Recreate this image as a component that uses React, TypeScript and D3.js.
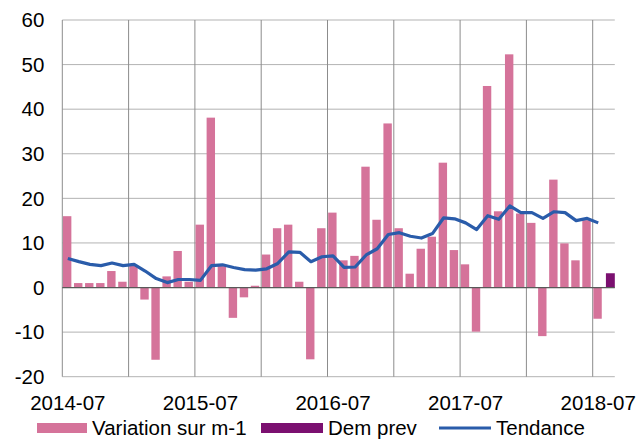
import React from "react";
import * as d3 from "d3";

// monthly categories, 2014-07 .. 2018-08
const months = d3
  .timeMonth.range(new Date(2014, 6, 1), new Date(2018, 8, 1))
  .map((d) => d3.timeFormat("%Y-%m")(d));

// Variation sur m-1 (one per month, last one empty)
const variation: Array<number | null> = [
  16, 1, 1, 1, 3.7, 1.3, 5.0, -2.7, -16.2, 2.5, 8.2, 1.3,
  14.1, 38.1, 5.0, -6.8, -2.2, 0.4, 7.4, 13.3, 14.1, 1.3, -16.1, 13.3,
  16.8, 6.1, 7.1, 27.1, 15.2, 36.8, 13.3, 3.1, 8.7, 11.4, 28.0, 8.4,
  5.2, -9.9, 45.2, 17.1, 52.3, 16.6, 14.5, -10.9, 24.2, 9.9, 6.1, 15.1,
  -7.0, null,
];

// Dem prev: only the last month
const demPrev: Array<number | null> = [...Array(49).fill(null), 3.2];

// Tendance
const tendance: Array<number | null> = [
  6.5, 5.8, 5.2, 4.9, 5.5, 4.9, 5.2, 3.7, 2.0, 1.1, 1.8, 1.8,
  1.6, 4.9, 5.1, 4.5, 4.0, 3.9, 4.2, 5.4, 8.0, 7.9, 5.8, 6.9,
  7.1, 4.5, 4.6, 7.3, 8.7, 11.9, 12.3, 11.5, 11.1, 12.1, 15.6, 15.4,
  14.5, 13.0, 16.1, 15.3, 18.3, 16.8, 16.8, 15.5, 17.0, 16.8, 15.0, 15.5,
  14.5, null,
];

const yTicks = [-20, -10, 0, 10, 20, 30, 40, 50, 60];
const xLabels = ["2014-07", "2015-07", "2016-07", "2017-07", "2018-07"];

const PINK = "#D5739A";
const PURPLE = "#7B1070";
const BLUE = "#2A5CAA";

export default function App() {
  const width = 640;
  const height = 439;
  const margin = { top: 20, right: 25.2, bottom: 62.3, left: 62.3 };
  const chartWidth = width - margin.left - margin.right;
  const chartHeight = height - margin.top - margin.bottom;

  const x = d3.scaleBand<string>().domain(months).range([0, chartWidth]).padding(0);
  const y = d3.scaleLinear().domain([-20, 60]).range([chartHeight, 0]);
  const bw = x.bandwidth();
  const barW = bw * 0.76;
  const barOff = bw * 0.06;

  const line = d3
    .line<number | null>()
    .defined((d) => d != null)
    .x((_, i) => (x(months[i]) as number) + bw / 2)
    .y((d) => y(d as number));

  const font = "'Liberation Sans', Arial, sans-serif";
  const fs = 20.5;

  return (
    <div style={{ position: "absolute", left: 0, top: 0 }}>
      <svg width={width} height={height} style={{ display: "block" }}>
        <g transform={`translate(${margin.left},${margin.top})`}>
          {/* horizontal grid */}
          {yTicks.map((t) => (
            <line
              key={"h" + t}
              x1={0}
              x2={chartWidth}
              y1={y(t)}
              y2={y(t)}
              stroke="#B3B3B3"
              strokeWidth={1}
            />
          ))}
          {/* vertical grid every 6 months */}
          {months.map((m, i) =>
            i % 6 === 0 ? (
              <line
                key={"v" + m}
                x1={x(m) as number}
                x2={x(m) as number}
                y1={0}
                y2={chartHeight}
                stroke="#8C8C8C"
                strokeWidth={1}
              />
            ) : null
          )}
          {/* bars */}
          {variation.map((v, i) =>
            v == null ? null : (
              <rect
                key={"b" + i}
                x={(x(months[i]) as number) + barOff}
                width={barW}
                y={y(Math.max(0, v))}
                height={Math.abs(y(v) - y(0))}
                fill={PINK}
              />
            )
          )}
          {demPrev.map((v, i) =>
            v == null ? null : (
              <rect
                key={"d" + i}
                x={(x(months[i]) as number) + barOff + 1.5}
                width={barW + 0.5}
                y={y(Math.max(0, v))}
                height={Math.abs(y(v) - y(0))}
                fill={PURPLE}
              />
            )
          )}
          {/* zero line */}
          <line x1={0} x2={chartWidth} y1={y(0)} y2={y(0)} stroke="#595959" strokeWidth={1.2} />
          {/* trend line */}
          <path d={line(tendance) || ""} fill="none" stroke={BLUE} strokeWidth={3.2} strokeLinejoin="round" />
          {/* y labels */}
          {yTicks.map((t) => (
            <text
              key={"yl" + t}
              x={-18}
              y={y(t)}
              dy="0.35em"
              textAnchor="end"
              fontFamily={font}
              fontSize={fs}
              fill="#000"
            >
              {t}
            </text>
          ))}
          {/* x labels */}
          {xLabels.map((l) => (
            <text
              key={"xl" + l}
              x={(x(l) as number) + bw / 2}
              y={chartHeight + 33}
              textAnchor="middle"
              fontFamily={font}
              fontSize={fs}
              fill="#000"
            >
              {l}
            </text>
          ))}
        </g>
        {/* legend */}
        <g fontFamily={font} fontSize={fs} fill="#000">
          <rect x={37} y={423} width={50} height={10} fill={PINK} />
          <text x={92} y={435}>Variation sur m-1</text>
          <rect x={261} y={423} width={62} height={10} fill={PURPLE} />
          <text x={328} y={435}>Dem prev</text>
          <line x1={439} x2={491} y1={428} y2={428} stroke={BLUE} strokeWidth={3} />
          <text x={496} y={435}>Tendance</text>
        </g>
      </svg>
    </div>
  );
}
